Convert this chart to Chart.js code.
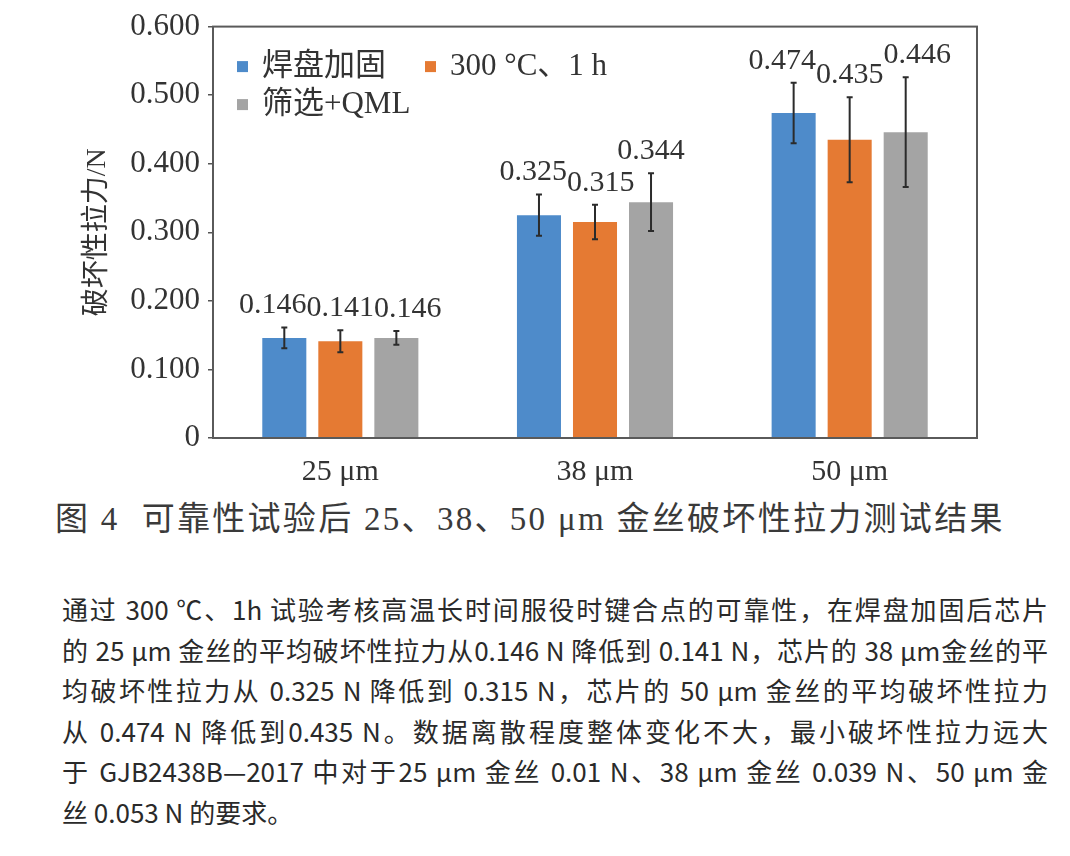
<!DOCTYPE html>
<html>
<head>
<meta charset="utf-8">
<script src="https://cdn.jsdelivr.net/npm/chart.js@4.4.1/dist/chart.umd.min.js"></script>
<style>
  body { margin: 0; background: #fff; width: 1070px; height: 856px; overflow: hidden; position: relative; }
  #wrap { position: absolute; left: 0; top: 0; width: 1070px; height: 490px; }
  .caption { position: absolute; left: 55px; top: 492px; font: 33px "Liberation Serif", "Noto Sans CJK SC"; color: #3a3a3a; letter-spacing: 2.3px; white-space: nowrap; }
  .caption .gap { display: inline-block; width: 22px; }
  .para { position: absolute; left: 62px; top: 589px; width: 986px; font: 26px/40.6px "Noto Sans CJK SC"; color: #2a2a2a; }
  .para div { text-align: justify; text-align-last: justify; }
  .para div.last { text-align-last: left; }
</style>
</head>
<body>
<div id="wrap"><canvas id="chart"></canvas></div>
<div class="caption">图 4<span class="gap"></span>可靠性试验后 25、38、50 μm 金丝破坏性拉力测试结果</div>
<div class="para">
  <div>通过 300 ℃、1h 试验考核高温长时间服役时键合点的可靠性，在焊盘加固后芯片</div>
  <div>的 25 μm 金丝的平均破坏性拉力从0.146 N 降低到 0.141 N，芯片的 38 μm金丝的平</div>
  <div>均破坏性拉力从 0.325 N 降低到 0.315 N，芯片的 50 μm 金丝的平均破坏性拉力</div>
  <div>从 0.474 N 降低到0.435 N。数据离散程度整体变化不大，最小破坏性拉力远大</div>
  <div>于 GJB2438B—2017 中对于25 μm 金丝 0.01 N、38 μm 金丝 0.039 N、50 μm 金</div>
  <div class="last">丝 0.053 N 的要求。</div>
</div>
<script>
// Data
const categories = ['25 μm', '38 μm', '50 μm'];
const seriesNames = ['焊盘加固', '300 °C、1 h', '筛选+QML'];
const padValues = [0.146, 0.325, 0.474];
const bakeValues = [0.141, 0.315, 0.435];
const qmlValues = [0.146, 0.344, 0.446];
const padErrors = [0.015, 0.030, 0.044];
const bakeErrors = [0.016, 0.025, 0.062];
const qmlErrors = [0.010, 0.042, 0.080];
const yMin = 0, yMax = 0.6, yStep = 0.1;

const SERIF = '"Liberation Serif", "Noto Sans CJK SC"';
const TEXT = '#333';
const COLORS = ['#4e8bca', '#e57a33', '#a4a4a4'];

// Error bars, value labels, legend and plot frame
const decorPlugin = {
  id: 'decor',
  afterDatasetsDraw(chart) {
    const { ctx, chartArea: area, scales: { y } } = chart;
    const datasets = chart.data.datasets;
    ctx.save();

    // frame
    ctx.strokeStyle = '#5a5a5a';
    ctx.lineWidth = 2;
    ctx.strokeRect(area.left, area.top, area.right - area.left, area.bottom - area.top);

    // error bars
    ctx.strokeStyle = '#2b2b2b';
    ctx.lineWidth = 2;
    datasets.forEach((ds, i) => {
      chart.getDatasetMeta(i).data.forEach((bar, j) => {
        const hi = y.getPixelForValue(ds.data[j] + ds.errors[j]);
        const lo = y.getPixelForValue(ds.data[j] - ds.errors[j]);
        ctx.beginPath();
        ctx.moveTo(bar.x, hi); ctx.lineTo(bar.x, lo);
        ctx.moveTo(bar.x - 3, hi); ctx.lineTo(bar.x + 3, hi);
        ctx.moveTo(bar.x - 3, lo); ctx.lineTo(bar.x + 3, lo);
        ctx.stroke();
      });
    });

    // value labels, nudged apart when they collide
    ctx.font = '30px ' + SERIF;
    ctx.fillStyle = TEXT;
    ctx.textAlign = 'center';
    ctx.textBaseline = 'middle';
    const w = ctx.measureText('0.000').width;
    const h = 22;
    categories.forEach((c, j) => {
      const boxes = datasets.map((ds, i) => ({
        x: chart.getDatasetMeta(i).data[j].x,
        y: y.getPixelForValue(ds.data[j] + ds.errors[j]) - 22,
        text: ds.data[j].toFixed(3),
      }));
      let cluster = [boxes[0]];
      const clusters = [cluster];
      for (let k = 1; k < boxes.length; k++) {
        const a = boxes[k - 1], b = boxes[k];
        if (b.x - a.x < w && Math.abs(b.y - a.y) < h) cluster.push(b);
        else { cluster = [b]; clusters.push(cluster); }
      }
      clusters.forEach(cl => {
        const mid = cl.reduce((s, b) => s + b.x, 0) / cl.length;
        cl.forEach((b, k) => { b.x = mid + (k - (cl.length - 1) / 2) * w; });
      });
      boxes.forEach(b => ctx.fillText(b.text, b.x, b.y));
    });

    // legend inside the plot
    ctx.textAlign = 'left';
    ctx.font = '31px ' + SERIF;
    const sq = 11;
    const rows = [area.top + 40, area.top + 78];
    const x0 = area.left + 24;
    const firstW = ctx.measureText(datasets[0].label).width;
    const spots = [[x0, rows[0]], [x0 + 25 + firstW + 39, rows[0]], [x0, rows[1]]];
    datasets.forEach((ds, i) => {
      const [sx, sy] = spots[i];
      ctx.fillStyle = ds.backgroundColor;
      ctx.fillRect(sx, sy - sq / 2, sq, sq);
      ctx.fillStyle = TEXT;
      ctx.fillText(ds.label, sx + 25, sy);
    });
    ctx.restore();
  },
};

const valueSets = [padValues, bakeValues, qmlValues];
const errorSets = [padErrors, bakeErrors, qmlErrors];

new Chart(document.getElementById('chart').getContext('2d'), {
  type: 'bar',
  data: {
    labels: categories,
    datasets: seriesNames.map((name, i) => ({
      label: name,
      data: valueSets[i],
      errors: errorSets[i],
      backgroundColor: COLORS[i],
      borderWidth: 0,
      categoryPercentage: 0.66,
      barPercentage: 0.786,
    })),
  },
  options: {
    responsive: true,
    maintainAspectRatio: false,
    animation: false,
    layout: { padding: { top: 24, right: 93, left: 0, bottom: 0 } },
    plugins: {
      legend: { display: false },
      tooltip: { enabled: false },
    },
    scales: {
      x: {
        grid: { display: false },
        border: { display: false },
        ticks: { color: TEXT, font: { family: SERIF, size: 30 }, padding: 8 },
        afterFit: (scale) => { scale.height = 52; },
      },
      y: {
        min: yMin,
        max: yMax,
        ticks: {
          stepSize: yStep,
          color: TEXT,
          font: { family: SERIF, size: 31 },
          padding: 8,
          callback: (v) => (v === 0 ? '0' : v.toFixed(3)),
        },
        grid: { drawOnChartArea: false, drawTicks: true, tickLength: 5, color: '#555', lineWidth: 1.5 },
        border: { display: false },
        title: {
          display: true,
          text: '破坏性拉力/N',
          color: TEXT,
          font: { family: SERIF, size: 28 },
          padding: { top: 81, bottom: 0 },
        },
        afterFit: (scale) => { scale.width = 213; },
      },
    },
  },
  plugins: [decorPlugin],
});
</script>
</body>
</html>
